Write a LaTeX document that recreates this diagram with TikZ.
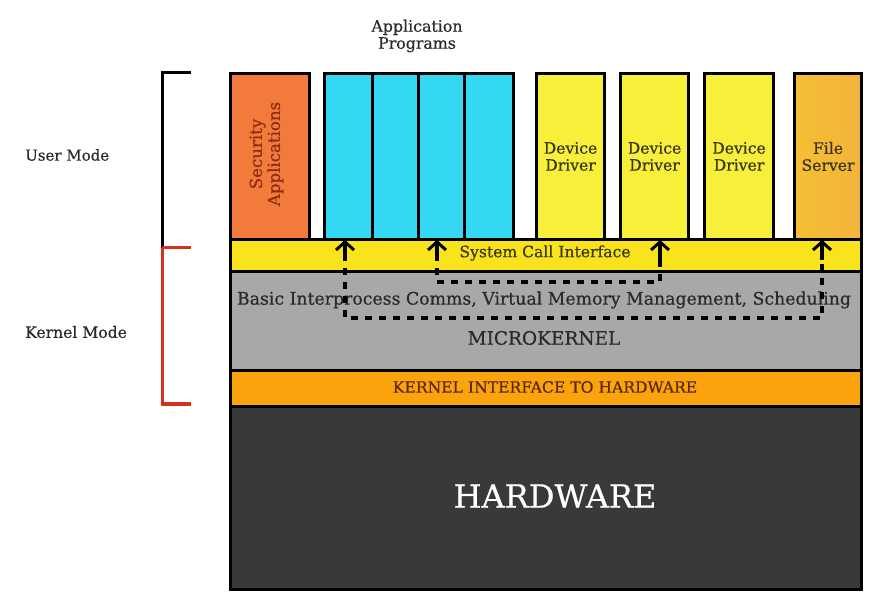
\documentclass[tikz,border=0pt]{standalone}
\usepackage{fontspec}
\setmainfont{DejaVu Serif}[FakeBold=0.6]
\usetikzlibrary{arrows.meta,calc}
\definecolor{secorange}{HTML}{F27A3A}
\definecolor{appblue}{HTML}{35D8F3}
\definecolor{drvyellow}{HTML}{F8EF3A}
\definecolor{fsorange}{HTML}{F3B43C}
\definecolor{scyellow}{HTML}{F9E31C}
\definecolor{mkgray}{HTML}{A8A8A8}
\definecolor{kiorange}{HTML}{FBA30C}
\definecolor{hwdark}{HTML}{393939}
\definecolor{modered}{HTML}{D2321E}
\definecolor{txtolive}{HTML}{3A3714}
\definecolor{txtsec}{HTML}{8E2C12}
\definecolor{txtki}{HTML}{5A2A08}
\definecolor{txtgray}{HTML}{2A2A2A}
\tikzset{
  box/.style={draw=black, line width=3pt, inner sep=0pt, anchor=north west, align=center},
  lbl/.style={inner sep=0pt, align=center},
  bracket/.style={line width=3pt},
  callpath/.style={line width=3.5pt, dash pattern=on 7pt off 7pt, line cap=butt},
  calltip/.style={line width=3.5pt, -{Straight Barb[length=8pt,width=18pt,line width=3pt]}}
}
\begin{document}
\begin{tikzpicture}[x=1pt,y=-1pt]
\useasboundingbox (0,0) rectangle (884,612);
% kernel layers
\node[box, fill=hwdark, minimum width=631pt, minimum height=183pt] (hw) at (229,405) {};
\node[text=white, font=\fontsize{32}{36}\selectfont] (hwt) at (555,496) {HARDWARE};
\node[box, fill=kiorange, minimum width=631pt, minimum height=36pt] (ki) at (229,369) {};
\node[text=txtki, font=\fontsize{15.6}{17}\selectfont] (kit) at (545,387) {KERNEL INTERFACE TO HARDWARE};
\node[box, fill=mkgray, minimum width=631pt, minimum height=99pt] (mk) at (229,270) {};
\node[text=txtgray, font=\fontsize{17.3}{19}\selectfont] (mkt1) at (544,300) {Basic Interprocess Comms, Virtual Memory Management, Scheduling};
\node[text=txtgray, font=\fontsize{18.5}{20}\selectfont] (mkt2) at (544,338) {MICROKERNEL};
\node[box, fill=scyellow, minimum width=631pt, minimum height=32pt] (sc) at (229,238) {};
\node[text=txtolive, font=\fontsize{15.6}{17}\selectfont] (sct) at (545,253) {System Call Interface};
% user mode boxes
\node[box, fill=secorange, minimum width=79pt, minimum height=166pt] (sec) at (229,72) {};
\node[lbl, rotate=90, text=txtsec, font=\fontsize{16.6}{18}\selectfont] (sect) at (266.5,154) {Security\\Applications};
\node[box, fill=appblue, minimum width=48pt, minimum height=166pt] (ap1) at (323,72) {};
\node[box, fill=appblue, minimum width=46pt, minimum height=166pt] (ap2) at (371,72) {};
\node[box, fill=appblue, minimum width=46pt, minimum height=166pt] (ap3) at (417,72) {};
\node[box, fill=appblue, minimum width=49pt, minimum height=166pt] (ap4) at (463,72) {};
\node[lbl, font=\fontsize{15.8}{17}\selectfont, text=txtgray] (apt) at (417,36) {Application\\Programs};
\node[box, fill=drvyellow, minimum width=68pt, minimum height=166pt, font=\fontsize{15.6}{17}\selectfont, text=txtolive] (dd1) at (535,72) {Device\\Driver};
\node[box, fill=drvyellow, minimum width=68pt, minimum height=166pt, font=\fontsize{15.6}{17}\selectfont, text=txtolive] (dd2) at (619,72) {Device\\Driver};
\node[box, fill=drvyellow, minimum width=69pt, minimum height=166pt, font=\fontsize{15.6}{17}\selectfont, text=txtolive] (dd3) at (703,72) {Device\\Driver};
\node[box, left color=fsorange!85!yellow, right color=fsorange, minimum width=67pt, minimum height=166pt, font=\fontsize{15.6}{17}\selectfont, text=txtolive] (fs) at (793,72) {File\\Server};
% mode brackets
\coordinate (ut) at (191,73);
\coordinate (ul) at (162,73);
\coordinate (um) at (162,248);
\coordinate (km) at (191,248);
\coordinate (kb) at (162,404);
\coordinate (kr) at (191,404);
\draw[bracket] (ut) -- (ul) -- (um);
\draw[bracket, modered] (um) -- (km);
\draw[bracket, modered] (um) -- (kb) -- (kr);
\node[anchor=west, inner sep=0pt, font=\fontsize{15}{17}\selectfont, text=txtgray] (umt) at (25,155) {User Mode};
\node[anchor=west, inner sep=0pt, font=\fontsize{15.6}{17}\selectfont, text=txtgray] (kmt) at (25,332) {Kernel Mode};
% call paths
\coordinate (a1b) at (345,318);
\coordinate (a1t) at (345,240);
\coordinate (a4b) at (822,318);
\coordinate (a4t) at (822,240);
\coordinate (a2b) at (437,282);
\coordinate (a2t) at (437,240);
\coordinate (a3b) at (660,282);
\coordinate (a3t) at (660,240);
\draw[callpath] (a1t) -- (a1b) -- (a4b) -- (a4t);
\draw[callpath] (a2t) -- (a2b) -- (a3b) -- (a3t);
\foreach \c in {1,2,3,4}{
  \draw[calltip] ($(a\c t)+(0,20)$) -- (a\c t);
}
\end{tikzpicture}
\end{document}
